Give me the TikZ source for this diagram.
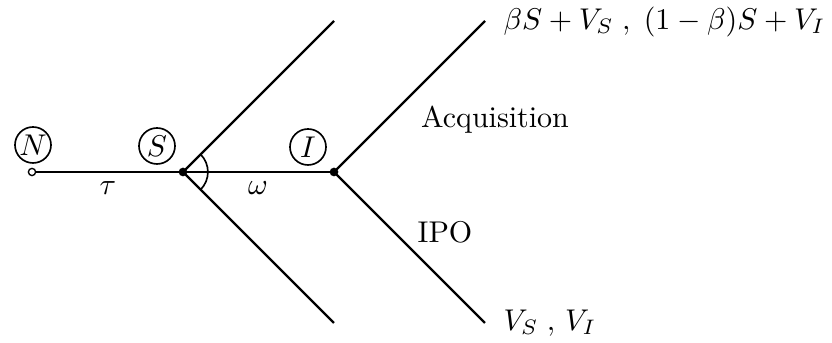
\documentclass[tikz,border=0pt]{standalone}
\usetikzlibrary{calc}
\begin{document}
\begin{tikzpicture}[x=0.3333pt,y=-0.3333pt,
  edge/.style={line width=0.75pt},
  lbl/.style={circle,draw,line width=0.55pt,inner sep=0pt,minimum size=12pt},
  opendot/.style={circle,draw,fill=white,line width=0.45pt,inner sep=0pt,minimum size=2.4pt},
  filldot/.style={circle,fill=black,inner sep=0pt,minimum size=2.9pt}]
\useasboundingbox (0,0) rectangle (832,343);
% points
\coordinate (n) at (32,172);
\coordinate (s) at (183,172);
\coordinate (i) at (334,172);
\coordinate (su) at (334,21);
\coordinate (sd) at (334,323);
\coordinate (iu) at (485,21);
\coordinate (id) at (485,323);
% lines
\draw[edge] (n) -- (s) -- (i);
\draw[edge] (s) -- (su);
\draw[edge] (s) -- (sd);
\draw[edge] (i) -- (iu);
\draw[edge] (i) -- (id);
% angle arc
\draw[line width=0.55pt] ($(s)+(-45:8.3pt)$) arc[start angle=-45,end angle=45,radius=8.3pt];
% dots
\node[opendot] (nd) at (n) {};
\node[filldot] (sdot) at (s) {};
\node[filldot] (idot) at (i) {};
% circled labels
\node[lbl] (ln) at (33,145) {$N$};
\node[lbl] (ls) at (157,146) {$S$};
\node[lbl] (li) at (308,147) {$I$};
% edge labels
\node (tau) at (108,188) {$\tau$};
\node (om) at (258,188) {$\omega$};
\node (acq) at (495,120) {Acquisition};
\node (ipo) at (445,232) {IPO};
\node[anchor=west] (top) at (493,22) {$\beta S + V_S\;,\;(1-\beta)S + V_I$};
\node[anchor=west] (bot) at (493,323) {$V_S\;,\,V_I$};
\end{tikzpicture}
\end{document}
